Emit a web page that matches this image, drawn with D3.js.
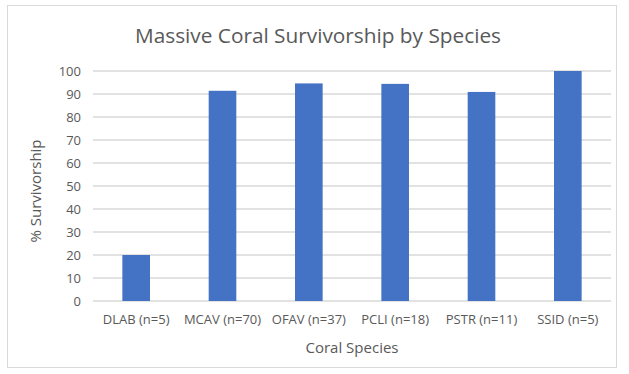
<html>
<script src="https://cdnjs.cloudflare.com/ajax/libs/d3/7.8.5/d3.min.js"></script>
<style>
  body { margin: 0; background: #fff; }
  text { font-family: "Open Sans", sans-serif; fill: #595959; }
</style>
<body>
  <svg width="629" height="374"></svg>
</body>
<script>
  const species = ['DLAB (n=5)', 'MCAV (n=70)', 'OFAV (n=37)', 'PCLI (n=18)', 'PSTR (n=11)', 'SSID (n=5)'];
  const survivorship = [20, 91.4, 94.6, 94.4, 90.9, 100];
  const yTicks = [0, 10, 20, 30, 40, 50, 60, 70, 80, 90, 100];

  const svg = d3.select('svg');

  // chart area frame
  svg.append('rect')
    .attr('x', 7.5).attr('y', 5.5)
    .attr('width', 609).attr('height', 362)
    .attr('fill', '#fff')
    .attr('stroke', '#d9d9d9');

  const plotLeft = 93, plotRight = 611, plotTop = 71, plotBottom = 301;

  const x = d3.scaleBand()
    .domain(species)
    .range([plotLeft, plotRight])
    .paddingInner(0.68)
    .paddingOuter(0.34);

  const y = d3.scaleLinear()
    .domain([0, 100])
    .range([plotBottom, plotTop]);

  // gridlines
  svg.append('g')
    .selectAll('line')
    .data(yTicks)
    .join('line')
    .attr('x1', plotLeft).attr('x2', plotRight)
    .attr('y1', d => y(d)).attr('y2', d => y(d))
    .attr('stroke', '#d9d9d9')
    .attr('stroke-width', 1.3);

  // y axis labels
  const yAxis = svg.append('g')
    .attr('transform', `translate(${plotLeft - 12},0)`)
    .call(d3.axisLeft(y).tickValues(yTicks).tickSize(0).tickPadding(0));
  yAxis.select('.domain').remove();
  yAxis.selectAll('text')
    .style('font-family', '"Open Sans", sans-serif')
    .style('font-size', '13px')
    .attr('fill', '#595959');

  // bars
  svg.append('g')
    .selectAll('rect')
    .data(species)
    .join('rect')
    .attr('x', d => x(d))
    .attr('y', (d, i) => y(survivorship[i]))
    .attr('width', x.bandwidth())
    .attr('height', (d, i) => y(0) - y(survivorship[i]))
    .attr('fill', '#4472c4');

  // x axis labels
  const xAxis = svg.append('g')
    .attr('transform', `translate(0,${plotBottom})`)
    .call(d3.axisBottom(x).tickSize(0).tickPadding(14));
  xAxis.select('.domain').remove();
  xAxis.selectAll('text')
    .style('font-family', '"Open Sans", sans-serif')
    .style('font-size', '13px')
    .attr('fill', '#595959');

  // titles
  svg.append('text')
    .attr('x', 318).attr('y', 43)
    .attr('text-anchor', 'middle')
    .style('font-size', '20.8px')
    .text('Massive Coral Survivorship by Species');

  svg.append('text')
    .attr('x', 352).attr('y', 353)
    .attr('text-anchor', 'middle')
    .style('font-size', '15px')
    .text('Coral Species');

  svg.append('text')
    .attr('transform', 'translate(41,191) rotate(-90)')
    .attr('text-anchor', 'middle')
    .style('font-size', '15px')
    .text('% Survivorship');
</script>
</html>
